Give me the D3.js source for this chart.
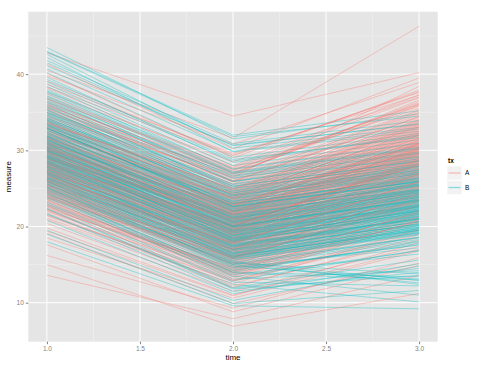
<!DOCTYPE html>
<html><head><meta charset="utf-8">
<script src="https://cdn.jsdelivr.net/npm/d3@7"></script>
<style>body{margin:0;background:#fff}svg{display:block;font-family:"Liberation Sans",Arial,sans-serif}</style>
</head><body><svg id="c" width="490" height="368"></svg>
<script>
const times = [1, 2, 3];
const groups = ["A", "B"];
const xTicks = [1.0, 1.5, 2.0, 2.5, 3.0];
const yTicks = [10, 20, 30, 40];

const a1 = [28.4,31.2,25.6,34.1,22.8,29.7,26.3,36.5,24.1,30.8,27.2,33.4,19.1,29.0,38.2,25.0,31.9,23.5,28.8,35.3,26.7,30.1,42.8,24.6,32.7,27.9,21.4,29.3,34.8,26.0,31.5,23.0,28.1,37.4,25.4,30.4,13.6,27.5,33.0,29.9,24.9,35.9,28.6,22.1,31.0,26.5,40.5,29.1,25.8,32.2,27.8,15.0,30.6,24.3,33.8,28.2,20.4,36.0,26.9,31.3,23.7,29.5,27.0,34.5,25.2,30.0,41.3,22.5,28.0,32.9,26.2,31.7,17.6,29.2,24.5,35.0,27.4,30.9,23.2,28.7,33.6,25.9,39.1,29.6,21.8,31.1,26.6,34.0,28.3,18.5,30.3,24.0,37.0,27.6,32.4,25.3,29.8,22.9,35.6,26.4,31.8,28.5,19.8,33.2,27.1,30.7,24.8,36.8,29.4,23.8,27.3,32.0,25.5,40.1,28.9,22.3,30.2,26.1,33.5,29.0,
 29.3,24.4,32.6,27.7,35.4,21.1,30.5,26.8,33.9,28.0,25.7,31.4,23.3,38.7,27.0,30.0,19.4,34.2,28.6,25.1,32.1,26.3,29.9,36.3,24.2,30.8,27.5,22.0,33.1,29.0,26.9,35.1,28.3,23.9,31.6,39.8,25.5,30.2,27.1,16.2,33.7,28.8,24.7,31.0,26.0,37.6,29.6,22.7,32.8,27.9,30.6,25.2,34.6,28.1,21.5,31.9,26.4,29.4,35.8,24.0,28.5,32.3,27.3,23.6,30.1,36.7,25.8,29.8,33.3,20.9,31.2,26.6,28.9,34.4,24.9,30.4,27.7,38.3,22.6,29.1,25.4,33.0,28.2,31.5,23.4,35.5,27.2,30.9,26.1,32.5,29.7,24.6,36.1,28.4,22.2,31.7,26.7,33.6,27.6,30.3];
const a2 = [19.5,22.0,15.8,24.9,14.2,21.3,18.7,26.2,17.0,20.4,18.1,25.5,9.9,20.8,28.0,16.3,23.4,13.6,21.7,24.1,17.4,22.6,34.5,15.1,23.0,19.2,12.8,20.0,27.3,16.6,23.9,14.5,18.3,27.0,17.9,21.1,7.9,19.6,22.4,20.7,15.5,26.8,19.9,13.0,21.9,18.0,31.6,21.0,16.9,24.4,18.6,6.9,22.2,14.8,23.6,20.3,11.5,25.8,17.2,22.8,15.9,19.4,18.4,26.5,16.0,21.5,30.2,13.8,20.1,23.2,17.7,22.9,8.8,21.4,15.3,25.1,18.9,23.1,14.0,19.0,24.6,16.7,29.4,20.6,12.2,22.5,18.2,24.0,19.7,10.6,21.6,15.6,27.8,19.1,23.7,16.4,20.9,14.3,26.0,17.3,22.1,20.2,11.0,24.2,18.5,21.2,16.1,27.5,20.5,15.0,19.3,23.3,17.1,29.0,20.0,14.6,22.7,17.8,25.0,21.8,
 20.6,15.0,23.8,18.1,26.0,12.5,21.9,17.3,24.7,19.4,16.8,22.7,14.1,29.6,18.8,21.4,10.9,25.3,19.5,16.0,23.5,17.9,20.5,27.1,15.9,22.0,18.6,13.2,24.3,20.1,17.6,26.4,19.8,15.2,22.6,30.8,16.5,21.7,18.0,9.3,24.8,20.0,15.7,22.3,17.5,28.5,20.8,13.9,23.9,19.3,21.8,16.2,25.9,19.6,12.9,23.1,17.1,20.7,26.9,15.4,19.9,23.6,18.3,14.7,21.2,27.7,16.9,21.0,24.5,12.0,22.4,17.8,20.3,25.6,16.1,21.6,19.0,29.3,13.6,20.2,16.6,24.2,19.2,22.9,14.4,26.6,18.5,22.1,17.0,23.7,21.0,15.8,27.4,19.7,13.4,22.8,17.7,24.9,18.9,21.5];
const a3 = [28.3,30.5,22.9,33.1,21.0,29.8,26.4,35.2,24.7,27.6,25.9,34.0,15.2,29.1,37.3,23.8,31.6,19.8,30.2,32.4,24.3,31.0,40.2,21.7,30.8,27.1,18.9,28.6,36.1,23.5,32.7,20.6,26.8,35.8,25.2,29.5,13.6,27.9,30.9,28.0,22.4,36.6,28.5,19.1,30.0,25.5,46.3,29.3,24.0,33.5,26.7,11.2,31.4,21.9,32.0,28.8,17.4,34.7,25.0,30.6,23.1,27.3,26.1,38.4,22.7,29.9,39.5,20.2,28.2,32.1,25.6,31.2,14.9,30.3,22.1,33.8,27.0,31.9,20.7,26.9,33.3,24.2,37.6,29.0,18.2,30.7,26.2,32.6,28.1,16.8,29.7,23.3,36.9,27.4,32.3,23.7,29.2,21.3,34.4,25.3,30.1,28.4,17.0,33.0,26.5,29.6,24.5,35.5,28.9,22.2,27.2,31.8,24.8,37.9,28.7,21.4,31.3,25.7,33.9,30.4,
 29.4,22.6,32.8,26.5,34.9,19.5,30.7,25.3,33.6,27.8,24.6,31.5,21.6,37.2,27.3,29.9,17.9,34.1,28.2,23.9,32.0,26.0,29.1,35.9,23.4,30.9,26.9,20.5,33.2,28.7,25.8,35.0,28.4,22.8,31.3,38.9,24.1,30.3,26.3,15.9,33.4,28.9,23.2,30.8,25.4,37.0,29.5,21.2,32.5,27.6,30.4,24.4,34.3,28.0,19.6,31.7,25.1,29.3,36.4,22.9,28.6,32.2,26.6,21.8,29.7,36.0,24.8,30.0,33.1,18.6,31.1,25.9,28.8,34.5,23.6,30.2,27.5,37.7,20.9,28.3,24.3,32.9,27.7,31.6,22.0,35.3,26.8,30.5,25.0,32.3,29.6,23.5,36.2,28.1,20.8,31.0,25.9,33.7,27.0,30.1];

const b1 = [30.5,27.3,33.8,25.1,29.0,36.2,31.7,23.9,28.2,34.6,26.4,32.1,43.5,29.6,24.7,30.9,38.0,27.8,33.1,21.6,31.3,28.7,35.4,26.0,30.0,42.2,25.6,32.8,29.3,37.1,27.0,33.5,24.2,30.7,28.4,39.6,31.9,22.8,29.8,35.0,26.8,32.4,18.0,30.2,34.2,27.5,41.1,29.1,25.3,31.0,36.8,28.0,33.0,24.5,30.4,27.1,43.0,31.5,26.2,29.4,34.9,22.3,28.9,32.6,25.8,30.8,37.8,27.6,33.3,19.5,29.7,35.7,26.6,31.2,28.1,40.2,24.0,32.3,29.9,27.4,33.7,30.1,25.0,36.4,28.6,31.6,23.2,34.3,27.9,42.6,30.6,26.1,32.9,29.2,38.7,25.5,31.8,28.3,35.2,20.8,29.5,33.9,27.2,31.4,24.4,36.0,30.3,26.9,34.0,28.5,32.2,27.7,39.0,30.0,25.9,33.4,29.0,37.5,26.5,31.1,
 28.8,33.2,26.9,31.1,24.6,35.8,29.9,27.1,32.7,38.4,30.2,25.4,34.5,28.0,41.8,26.5,31.7,23.6,29.3,36.6,27.7,32.0,24.9,30.6,33.9,28.4,40.7,26.2,31.3,22.4,34.8,29.0,27.4,32.4,25.7,30.0,37.2,28.7,33.6,26.0,31.0,23.0,29.5,35.3,27.9,32.9,25.1,30.4,42.9,28.2,26.7,33.4,30.8,24.3,36.9,29.2,31.9,27.5,34.1,19.0,32.2,28.5,25.9,30.1,39.3,27.0,33.0,29.7,24.8,35.6,28.9,31.5,26.3,34.7,30.5,21.7,32.6,27.8,29.4,37.7,25.6,30.9,33.3,28.3,35.0,26.8,31.4,23.8,29.8,41.5,32.9,27.2,30.3,25.2,34.3,28.6,36.3,29.1,31.8,26.4];
const b2 = [20.3,17.8,22.5,14.6,19.9,25.0,21.4,13.9,18.7,23.8,16.2,22.9,31.5,18.4,15.3,20.6,27.2,17.0,24.1,12.4,21.8,19.2,24.6,15.7,20.9,29.8,14.9,23.0,19.0,26.3,16.8,23.5,13.1,21.0,18.1,28.4,22.0,12.0,19.6,25.6,17.3,21.7,9.6,20.2,24.4,16.6,30.7,19.4,15.0,22.3,26.0,18.3,22.7,13.5,21.2,17.5,32.0,20.8,16.0,20.0,24.8,11.8,18.9,23.2,15.5,20.5,27.6,17.1,22.2,10.3,19.7,25.3,16.4,21.6,18.0,29.1,14.2,22.4,20.4,17.6,23.6,19.5,15.2,26.7,18.6,21.1,12.9,24.0,17.9,30.3,20.7,16.1,22.8,19.3,28.0,15.4,21.5,18.2,25.2,11.2,19.8,23.4,17.2,21.3,14.0,25.9,20.1,16.9,24.2,18.5,22.1,17.4,28.6,20.0,15.8,23.3,19.1,27.0,16.5,21.0,
 18.9,23.0,16.5,20.6,14.3,25.5,19.6,17.0,22.5,27.5,20.0,15.1,24.2,17.8,30.9,16.3,21.2,13.4,19.1,26.4,17.6,21.9,14.7,20.5,23.7,18.1,29.9,16.0,21.0,11.9,24.5,18.8,17.3,22.1,15.6,19.8,26.9,18.5,23.3,15.9,20.8,12.7,19.3,25.0,17.7,22.6,14.8,20.1,31.8,18.0,16.4,23.1,20.4,14.0,26.6,18.9,21.6,17.4,23.8,9.9,22.0,18.3,15.8,19.9,28.8,16.8,22.7,19.4,14.5,25.3,18.6,21.3,16.2,24.4,20.2,11.5,22.3,17.5,19.2,27.1,15.3,20.7,23.0,18.2,24.7,16.6,21.1,13.7,19.5,30.6,22.6,17.0,20.0,15.0,24.0,18.4,25.9,18.8,21.5,16.1];
const b3 = [23.9,20.1,26.8,17.2,24.0,28.3,25.1,13.0,22.6,27.9,19.5,26.1,34.8,22.0,12.4,24.7,30.6,21.3,27.2,10.1,25.5,23.3,28.9,19.0,24.4,32.5,18.3,26.5,22.8,29.7,20.4,27.5,14.2,25.8,21.6,31.9,25.3,15.6,23.1,29.2,21.0,24.9,9.2,24.2,28.1,20.7,33.4,22.4,18.6,26.2,29.5,22.1,25.9,11.0,25.0,21.2,35.2,24.5,19.8,23.7,28.5,13.6,22.9,27.0,19.2,24.1,31.0,20.6,26.0,14.8,23.4,28.7,20.0,25.6,21.8,32.2,17.8,26.4,24.6,21.4,27.3,23.0,13.8,30.1,22.5,24.8,16.9,27.7,21.9,33.0,24.3,19.6,26.6,22.7,31.4,12.9,25.2,22.2,28.6,15.1,23.6,27.1,20.9,25.4,18.0,29.3,23.8,20.3,27.8,22.0,25.7,21.1,32.0,23.5,19.4,26.9,22.6,30.2,20.2,24.8,
 22.5,26.2,19.9,24.2,17.6,28.9,23.1,20.4,25.8,30.9,23.6,18.5,27.4,21.1,33.9,19.7,24.6,16.8,22.3,29.6,21.0,25.3,18.1,23.9,26.9,21.5,32.8,19.3,24.5,14.5,27.9,22.2,20.6,25.5,18.9,23.2,30.3,21.8,26.7,19.2,24.2,12.2,22.7,28.2,21.0,25.9,13.1,23.4,34.5,21.3,19.7,26.4,23.8,13.4,29.8,22.3,24.9,20.7,27.1,11.6,25.4,21.6,19.1,23.3,31.7,20.1,26.0,22.8,17.6,28.6,22.0,24.7,19.5,27.6,23.5,14.0,25.6,20.9,22.6,30.4,18.6,24.0,26.3,21.4,28.0,19.9,24.4,16.4,22.9,33.5,25.9,20.3,23.4,12.6,27.4,21.7,29.1,22.1,24.8,19.5];

const colors = {A: "#F8766D", B: "#00BFC4"};

const svg = d3.select("#c");
const pL = 28.3, pR = 437.7, pT = 11.7, pB = 341.7;
const x = d3.scaleLinear().domain([0.9, 3.1]).range([pL, pR]);
const y = d3.scaleLinear().domain([4.88, 48.2]).range([pB, pT]);

svg.append("rect").attr("x", pL).attr("y", pT).attr("width", pR - pL).attr("height", pB - pT).attr("fill", "#E5E5E5");

const xMinor = [1.25, 1.75, 2.25, 2.75];
const yMinor = [15, 25, 35, 45];
svg.append("g").selectAll("line").data(xMinor).join("line")
  .attr("x1", d => x(d)).attr("x2", d => x(d)).attr("y1", pT).attr("y2", pB)
  .attr("stroke", "#F2F2F2").attr("stroke-width", 0.5);
svg.append("g").selectAll("line").data(yMinor).join("line")
  .attr("y1", d => y(d)).attr("y2", d => y(d)).attr("x1", pL).attr("x2", pR)
  .attr("stroke", "#F2F2F2").attr("stroke-width", 0.5);
svg.append("g").selectAll("line").data(xTicks).join("line")
  .attr("x1", d => x(d)).attr("x2", d => x(d)).attr("y1", pT).attr("y2", pB)
  .attr("stroke", "#fff").attr("stroke-width", 1);
svg.append("g").selectAll("line").data(yTicks).join("line")
  .attr("y1", d => y(d)).attr("y2", d => y(d)).attr("x1", pL).attr("x2", pR)
  .attr("stroke", "#fff").attr("stroke-width", 1);

const rows = [];
for (let i = 0; i < a1.length; i++) {
  rows.push({g: "A", v: [a1[i], a2[i], a3[i]]});
  rows.push({g: "B", v: [b1[i], b2[i], b3[i]]});
}
const line = d3.line().x((d, i) => x(times[i])).y(d => y(d));
svg.append("g").selectAll("path").data(rows).join("path")
  .attr("d", d => line(d.v))
  .attr("fill", "none")
  .attr("stroke", d => colors[d.g])
  .attr("stroke-opacity", 0.45)
  .attr("stroke-width", 0.8);

const xAxis = svg.append("g").attr("transform", `translate(0,${pB})`)
  .call(d3.axisBottom(x).tickValues(xTicks).tickFormat(d3.format(".1f")).tickSize(2.5).tickPadding(2));
const yAxis = svg.append("g").attr("transform", `translate(${pL},0)`)
  .call(d3.axisLeft(y).tickValues(yTicks).tickSize(2.5).tickPadding(2));
[xAxis, yAxis].forEach(a => {
  a.select(".domain").remove();
  a.selectAll("line").attr("stroke", "#7F7F7F");
  a.selectAll("text").attr("fill", "#7F7F7F").attr("font-size", 6.5);
});

svg.append("text").attr("x", (pL + pR) / 2).attr("y", 360).attr("text-anchor", "middle")
  .attr("font-size", 8).attr("fill", "#000").text("time");
svg.append("text").attr("transform", `translate(11,${(pT + pB) / 2}) rotate(-90)`).attr("text-anchor", "middle")
  .attr("font-size", 8).attr("fill", "#000").text("measure");

const lg = svg.append("g");
lg.append("text").attr("x", 448).attr("y", 163).attr("font-size", 6.5).attr("font-weight", "bold").text("tx");
const keys = lg.selectAll("g.k").data(groups).join("g").attr("class", "k")
  .attr("transform", (d, i) => `translate(447,${166 + i * 14.5})`);
keys.append("rect").attr("width", 15).attr("height", 14).attr("fill", "#F2F2F2").attr("stroke", "#fff").attr("stroke-width", 0.6);
keys.append("line").attr("x1", 1.5).attr("x2", 13.5).attr("y1", 7).attr("y2", 7)
  .attr("stroke", d => colors[d]).attr("stroke-opacity", 0.45).attr("stroke-width", 1.3);
keys.append("text").attr("x", 18).attr("y", 9.3).attr("font-size", 6.5).attr("fill", "#000").text(d => d);
</script></body></html>
